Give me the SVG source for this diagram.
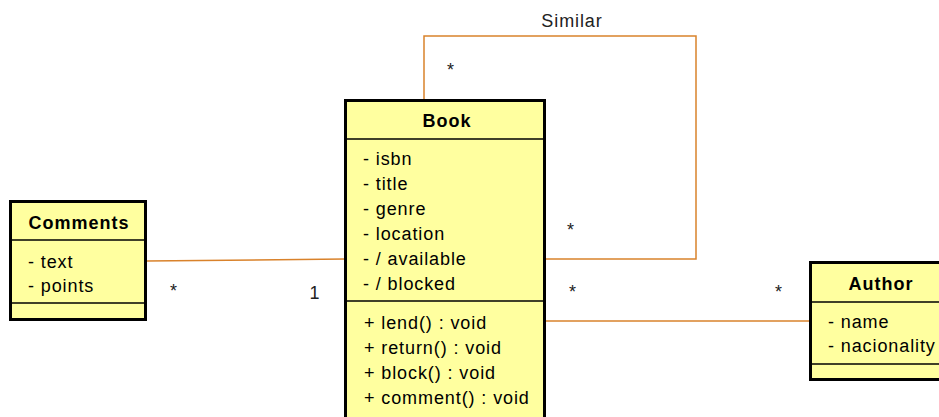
<svg xmlns="http://www.w3.org/2000/svg" width="939" height="417" viewBox="0 0 939 417">
  <style>
    .box { fill: #ffff9f; stroke: #000; stroke-width: 3; }
    .sep { stroke: #000; stroke-width: 1.5; }
    .title { font-family: "Liberation Sans", Arial, sans-serif; font-size: 18px; font-weight: bold; fill: #000; text-anchor: middle; letter-spacing: 1px; }
    .item { font-family: "Liberation Sans", Arial, sans-serif; font-size: 18px; fill: #000; letter-spacing: 0.9px; }
    .lbl { font-family: "Liberation Sans", Arial, sans-serif; font-size: 18px; fill: #222; letter-spacing: 0.9px; }
    .mid { text-anchor: middle; }
    .edge { fill: none; stroke: #d9822b; stroke-width: 1.5; }
  </style>
  <rect width="939" height="417" fill="#fff"/>

  <g id="connectors">
    <path class="edge" d="M146 261 L345 259"/>
    <path class="edge" d="M424 99 V36 H696 V259 H545"/>
    <path class="edge" d="M545 321 H810"/>
    <text class="lbl mid" x="572" y="27">Similar</text>
    <text class="lbl mid" x="451" y="76">*</text>
    <text class="lbl mid" x="571" y="236">*</text>
    <text class="lbl mid" x="174" y="297">*</text>
    <text class="lbl mid" x="315" y="299">1</text>
    <text class="lbl mid" x="573" y="298">*</text>
    <text class="lbl mid" x="779" y="298">*</text>
  </g>

  <g id="book">
    <rect class="box" x="345.5" y="100.5" width="199" height="330"/>
    <line class="sep" x1="345" y1="139" x2="545" y2="139"/>
    <line class="sep" x1="345" y1="301" x2="545" y2="301"/>
    <text class="title" x="447" y="127">Book</text>
    <text class="item" x="363" y="165">- isbn</text>
    <text class="item" x="363" y="190">- title</text>
    <text class="item" x="363" y="215">- genre</text>
    <text class="item" x="363" y="240">- location</text>
    <text class="item" x="363" y="265">- / available</text>
    <text class="item" x="363" y="290">- / blocked</text>
    <text class="item" x="364" y="329">+ lend() : void</text>
    <text class="item" x="364" y="354">+ return() : void</text>
    <text class="item" x="364" y="379">+ block() : void</text>
    <text class="item" x="364" y="404">+ comment() : void</text>
  </g>

  <g id="comments">
    <rect class="box" x="10.5" y="201.5" width="135" height="118"/>
    <line class="sep" x1="10" y1="240" x2="146" y2="240"/>
    <line class="sep" x1="10" y1="303" x2="146" y2="303"/>
    <text class="title" x="79" y="229">Comments</text>
    <text class="item" x="28" y="268">- text</text>
    <text class="item" x="28" y="292">- points</text>
  </g>

  <g id="author">
    <rect class="box" x="810.5" y="262.5" width="140" height="117"/>
    <line class="sep" x1="810" y1="302" x2="950" y2="302"/>
    <line class="sep" x1="810" y1="364" x2="950" y2="364"/>
    <text class="title" x="881" y="290">Author</text>
    <text class="item" x="828" y="328">- name</text>
    <text class="item" x="828" y="352">- nacionality</text>
  </g>
</svg>
